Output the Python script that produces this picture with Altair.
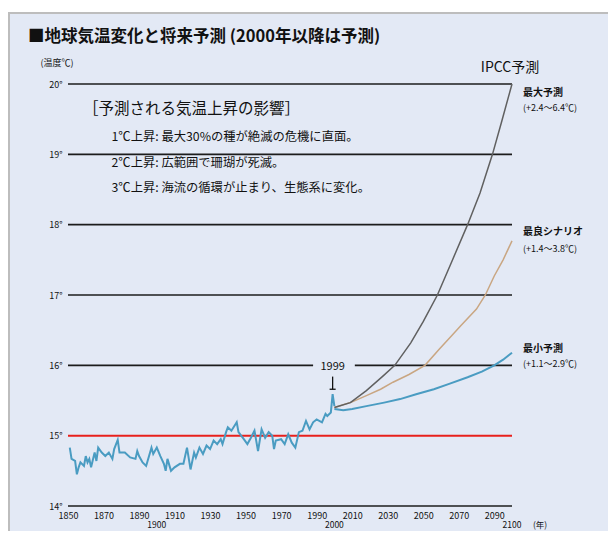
import altair as alt
import pandas as pd

FONT = "Noto Sans CJK JP"

# ---------------- data ----------------
obs_years = [1851, 1852, 1854, 1855, 1856, 1857, 1859, 1860, 1861, 1862, 1863, 1865, 1866, 1867,
             1869, 1871, 1873, 1875, 1876, 1878, 1879, 1882, 1885, 1888, 1889, 1890, 1892, 1894,
             1897, 1898, 1900, 1902, 1904, 1905, 1906, 1908, 1910, 1913, 1915, 1917, 1919, 1921,
             1922, 1924, 1926, 1928, 1930, 1932, 1934, 1936, 1937, 1939, 1940, 1942, 1945, 1946,
             1949, 1951, 1953, 1955, 1957, 1959, 1961, 1963, 1965, 1966, 1967, 1970, 1972, 1974,
             1976, 1978, 1980, 1982, 1984, 1986, 1988, 1990, 1993, 1995, 1996, 1998, 1999, 2000]
obs_temps = [14.83, 14.67, 14.64, 14.45, 14.55, 14.62, 14.57, 14.71, 14.62, 14.67, 14.55, 14.76, 14.64, 14.83,
             14.76, 14.71, 14.76, 14.67, 14.81, 14.94, 14.76, 14.76, 14.69, 14.67, 14.78, 14.71, 14.62, 14.57,
             14.83, 14.74, 14.83, 14.71, 14.60, 14.50, 14.67, 14.50, 14.55, 14.60, 14.60, 14.83, 14.52, 14.76,
             14.69, 14.83, 14.74, 14.86, 14.81, 14.93, 14.88, 14.95, 14.88, 15.05, 15.12, 15.07, 15.19, 15.05,
             14.95, 14.88, 14.97, 15.07, 14.78, 15.09, 14.97, 15.05, 15.00, 14.81, 14.93, 14.95, 14.88, 15.02,
             14.90, 14.83, 15.05, 15.07, 15.21, 15.09, 15.19, 15.23, 15.19, 15.31, 15.28, 15.33, 15.59, 15.42]

max_years = [2000, 2009, 2018, 2027, 2034, 2043, 2050, 2058, 2066, 2075, 2082, 2089, 2094, 2100]
max_temps = [15.40, 15.47, 15.64, 15.84, 16.00, 16.32, 16.62, 17.00, 17.47, 18.00, 18.45, 19.00, 19.45, 20.00]

best_years = [2000, 2010, 2018, 2026, 2033, 2042, 2051, 2059, 2066, 2071, 2080, 2085, 2090, 2095, 2100]
best_temps = [15.40, 15.48, 15.57, 15.66, 15.76, 15.87, 16.00, 16.23, 16.42, 16.56, 16.80, 17.00, 17.27, 17.50, 17.77]

min_years = [2000, 2005, 2010, 2018, 2028, 2037, 2046, 2056, 2065, 2075, 2083, 2090, 2095, 2100]
min_temps = [15.38, 15.36, 15.38, 15.42, 15.47, 15.52, 15.59, 15.66, 15.74, 15.83, 15.91, 16.00, 16.08, 16.18]

x_ticks = [1850, 1870, 1890, 1910, 1930, 1950, 1970, 1990, 2010, 2030, 2050, 2070, 2090]
century_ticks = [1900, 2000, 2100]
y_ticks = [14, 15, 16, 17, 18, 19, 20]

grid_y = [14, 16, 16, 17, 18, 19, 20]
grid_from = [1850, 1850, 2011.5, 1850, 1850, 1850, 1850]
grid_to = [2100, 1988, 2100, 2100, 2100, 2100, 2100]

scenario_names = ["最大予測", "最良シナリオ", "最小予測"]
scenario_ranges = ["(+2.4～6.4℃)", "(+1.4～3.8℃)", "(+1.1～2.9℃)"]
scenario_label_y = [19.87, 17.89, 16.23]
scenario_range_y = [19.66, 17.66, 16.02]

notes_header = "［予測される気温上昇の影響］"
notes_lines = ["1℃上昇: 最大30%の種が絶滅の危機に直面。",
               "2℃上昇: 広範囲で珊瑚が死滅。",
               "3℃上昇: 海流の循環が止まり、生態系に変化。"]
notes_y = [19.24, 18.87, 18.52]

BLUE = "#4a9cc2"
GRAY = "#606060"
TAN = "#c9a682"
INK = "#111111"

# ---------------- scales & axes ----------------
xs = alt.Scale(domain=[1850, 2100], nice=False, zero=False)
ys = alt.Scale(domain=[14, 20], nice=False, zero=False)

AX = alt.Axis(values=x_ticks, title=None, domain=False, ticks=False, grid=False,
              labelFontSize=9, labelColor=INK, labelPadding=5, labelFlush=False,
              labelOverlap=False, labelFont=FONT, format="d", zindex=2)
AY = alt.Axis(values=y_ticks, domain=False, ticks=False, grid=False,
              labelExpr="datum.value + '°'", labelFontSize=9, labelColor=INK,
              labelPadding=6, labelFont=FONT, zindex=2, labelOverlap=False,
              title="(温度℃)", titleAngle=0, titleAlign="left", titleBaseline="middle",
              titleX=-28, titleY=-22, titleFontSize=9, titleFontWeight="normal",
              titleFont=FONT, titleColor=INK)


def X(field):
    return alt.X(field, scale=xs, axis=AX)


def Y(field):
    return alt.Y(field, scale=ys, axis=AY)


# card background
card = alt.Chart(alt.Data(values=[{"k": 1}])).mark_rect(
    fill="#e3e9f5", stroke="#bdbdbd", strokeWidth=2
).encode(x=alt.value(-59), x2=alt.value(700), y=alt.value(-71), y2=alt.value(700))

grid_df = pd.DataFrame({"y": grid_y, "x1": grid_from, "x2": grid_to})
grid = alt.Chart(grid_df).mark_rule(color="#1c1c1c", strokeWidth=1.6).encode(
    x=X("x1:Q"), x2="x2:Q", y=Y("y:Q"))

red_df = pd.DataFrame({"y": [15], "x1": [1850], "x2": [2100]})
red = alt.Chart(red_df).mark_rule(color="#e8201c", strokeWidth=2).encode(
    x=X("x1:Q"), x2="x2:Q", y=Y("y:Q"))

obs = alt.Chart(pd.DataFrame({"year": obs_years, "temp": obs_temps})).mark_line(
    color=BLUE, strokeWidth=2).encode(x=X("year:Q"), y=Y("temp:Q"))


def proj(years, temps, color, w):
    return alt.Chart(pd.DataFrame({"year": years, "temp": temps})).mark_line(
        color=color, strokeWidth=w).encode(x=X("year:Q"), y=Y("temp:Q"))


p_max = proj(max_years, max_temps, GRAY, 1.5)
p_best = proj(best_years, best_temps, TAN, 1.5)
p_min = proj(min_years, min_temps, BLUE, 2)

# 1999 annotation
ann_df = pd.DataFrame({"year": [1999], "temp": [15.97], "label": ["1999"]})
ann_text = alt.Chart(ann_df).mark_text(font=FONT, fontSize=11, color=INK, baseline="middle").encode(
    x=X("year:Q"), y=Y("temp:Q"), text="label:N")
arrow_v = alt.Chart(pd.DataFrame({"year": [1999], "t1": [15.84], "t2": [15.66]})).mark_rule(
    color=INK, strokeWidth=1.3).encode(x=X("year:Q"), y=Y("t1:Q"), y2="t2:Q")
arrow_h = alt.Chart(pd.DataFrame({"x1": [1997.3], "x2": [2000.7], "t": [15.66]})).mark_rule(
    color=INK, strokeWidth=1.3).encode(x=X("x1:Q"), x2="x2:Q", y=Y("t:Q"))

# century labels (second row)
cent_df = pd.DataFrame({"year": century_ticks, "label": [str(c) for c in century_ticks]})
cent = alt.Chart(cent_df).mark_text(font=FONT, fontSize=8.5, color=INK, baseline="middle").encode(
    x=X("year:Q"), y=alt.value(441), text="label:N")
nen = alt.Chart(pd.DataFrame({"year": [2100], "label": ["(年)"]})).mark_text(
    font=FONT, fontSize=8.5, color=INK, baseline="middle", align="left", dx=21).encode(
    x=X("year:Q"), y=alt.value(441), text="label:N")

# scenario labels
sc_name = alt.Chart(pd.DataFrame({"year": [2100] * 3, "temp": scenario_label_y, "label": scenario_names})).mark_text(
    font=FONT, fontSize=10, fontWeight="bold", color=INK, align="left", baseline="middle", dx=11).encode(
    x=X("year:Q"), y=Y("temp:Q"), text="label:N")
sc_rng = alt.Chart(pd.DataFrame({"year": [2100] * 3, "temp": scenario_range_y, "label": scenario_ranges})).mark_text(
    font=FONT, fontSize=9, color=INK, align="left", baseline="middle", dx=11).encode(
    x=X("year:Q"), y=Y("temp:Q"), text="label:N")

ipcc = alt.Chart(pd.DataFrame({"year": [2100], "label": ["IPCC予測"]})).mark_text(
    font=FONT, fontSize=14, color=INK, align="center", baseline="middle", dx=-2).encode(
    x=X("year:Q"), y=alt.value(-16), text="label:N")

# notes
hdr = alt.Chart(pd.DataFrame({"year": [1858.5], "temp": [19.65], "label": [notes_header]})).mark_text(
    font=FONT, fontSize=15.5, color=INK, align="left", baseline="middle").encode(
    x=X("year:Q"), y=Y("temp:Q"), text="label:N")
lines = alt.Chart(pd.DataFrame({"year": [1874.5] * 3, "temp": notes_y, "label": notes_lines})).mark_text(
    font=FONT, fontSize=12.3, color=INK, align="left", baseline="middle").encode(
    x=X("year:Q"), y=Y("temp:Q"), text="label:N")

title = alt.Chart(alt.Data(values=[{"label": "■地球気温変化と将来予測 (2000年以降は予測)"}])).mark_text(
    font=FONT, fontSize=16.5, fontWeight="bold", color=INK, align="left", baseline="middle").encode(
    x=alt.value(-40), y=alt.value(-47), text="label:N")

chart = alt.layer(
    card, grid, red, obs, p_min, p_best, p_max,
    ann_text, arrow_v, arrow_h, cent, nen, sc_name, sc_rng, ipcc, hdr, lines, title
).properties(
    width=444, height=422,
    padding={"left": 60, "top": 76, "right": 96, "bottom": 25},
    autosize=alt.AutoSizeParams(type="none"),
    background="white",
).configure_view(stroke=None).configure(font=FONT).configure_axisX(labelOverlap=False)

chart.save("out.html", embed_options={"renderer": "svg", "actions": False})
